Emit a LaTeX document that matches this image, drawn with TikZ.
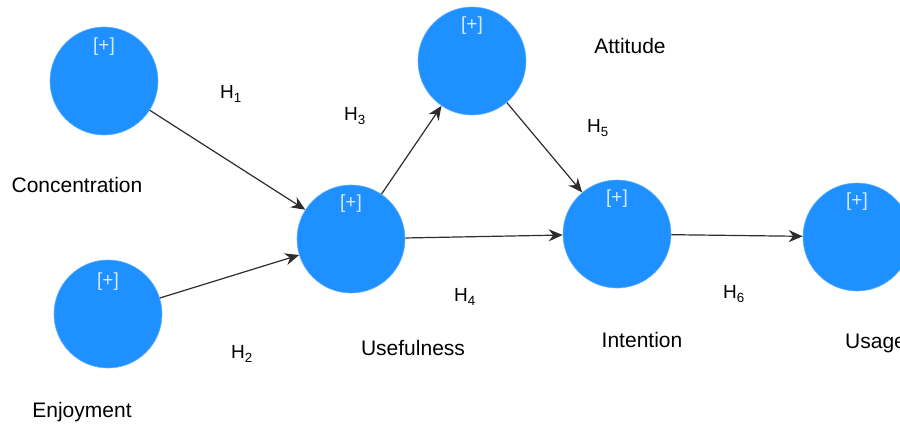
\documentclass[tikz,border=0pt]{standalone}
\usepackage{fontspec}
\setmainfont{Liberation Sans}
\usetikzlibrary{arrows.meta}
\definecolor{latent}{RGB}{30,144,255}
\definecolor{plus}{RGB}{215,232,255}
\definecolor{edge}{RGB}{45,45,45}
\tikzset{
  construct/.style={circle, fill=latent, draw=latent!70!white, line width=0.6pt,
    minimum size=108pt, inner sep=0pt},
  plusmark/.style={text=plus, font=\fontsize{19}{22}\selectfont},
  lbl/.style={font=\fontsize{21}{24}\selectfont, text=black, inner sep=0pt},
  hyp/.style={font=\fontsize{19}{22}\selectfont, text=black, inner sep=0pt},
  path/.style={draw=edge, line width=1.2pt, -{Stealth[length=14pt,width=12pt]}}
}
\begin{document}
\begin{tikzpicture}[x=1pt,y=-1pt]
\useasboundingbox (0,0) rectangle (900,425);
\clip (0,0) rectangle (900,425);
\fill[white] (0,0) rectangle (900,425);

% latent constructs
\node[construct] (con) at (104,81) {};
\node[construct] (enj) at (108,314) {};
\node[construct] (use) at (351,239) {};
\node[construct] (att) at (472,61) {};
\node[construct] (int) at (617,234) {};
\node[construct] (usg) at (857,237) {};

% [+] markers
\node[plusmark] (pcon) at (104,47) {[+]};
\node[plusmark] (penj) at (108,282) {[+]};
\node[plusmark] (puse) at (351,204) {[+]};
\node[plusmark] (patt) at (472,26) {[+]};
\node[plusmark] (pint) at (617,199) {[+]};
\node[plusmark] (pusg) at (857,202) {[+]};

% construct names
\node[lbl] (tcon) at (77,185) {Concentration};
\node[lbl] (tenj) at (82,412) {Enjoyment};
\node[lbl] (tuse) at (413,348) {Usefulness};
\node[lbl] (tatt) at (630,46) {Attitude};
\node[lbl] (tint) at (642,340) {Intention};
\node[lbl, anchor=west] (tusg) at (845,343) {Usage};

% hypothesis labels
\node[hyp] (h1) at (231,94) {H\textsubscript{1}};
\node[hyp] (h2) at (242,354) {H\textsubscript{2}};
\node[hyp] (h3) at (355,116) {H\textsubscript{3}};
\node[hyp] (h4) at (465,297) {H\textsubscript{4}};
\node[hyp] (h5) at (598,128) {H\textsubscript{5}};
\node[hyp] (h6) at (734,294) {H\textsubscript{6}};

% structural paths
\draw[path] (con) -- (use);
\draw[path] (enj) -- (use);
\draw[path] (use) -- (att);
\draw[path] (att) -- (int);
\draw[path] (use) -- (int);
\draw[path] (int) -- (usg);
\end{tikzpicture}
\end{document}
